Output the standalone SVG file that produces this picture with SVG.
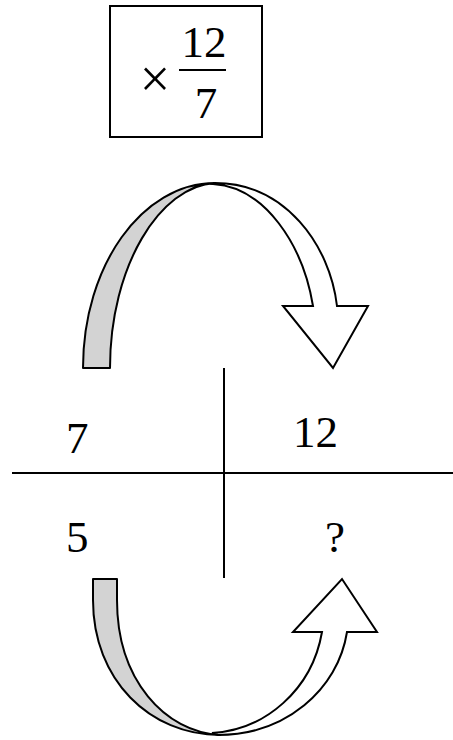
<svg xmlns="http://www.w3.org/2000/svg" width="453" height="740" viewBox="0 0 453 740">
<style>
.t{font-family:"Liberation Serif","Times New Roman",serif;font-size:45px;fill:#000}
.x{font-size:54px}
.ln{stroke:#000;stroke-width:2;fill:none}
.gray{fill:#d3d3d3;stroke:#000;stroke-width:2;stroke-linejoin:round}
.wh{fill:#fff;stroke:#000;stroke-width:2;stroke-linejoin:miter}
</style>
<rect width="453" height="740" fill="#fff"/>
<g id="factor">
<rect x="110" y="6" width="152" height="131" class="ln"/>
<text class="t x" x="155" y="97" text-anchor="middle">×</text>
<text class="t" x="204" y="57" text-anchor="middle">12</text>
<line x1="179" y1="70" x2="226" y2="70" class="ln"/>
<text class="t" x="206" y="118" text-anchor="middle">7</text>
</g>
<g id="top-arrow">
<path class="gray" d="M83 368 C83 266 142 183 215 183 C160 186 110 266 110 368 Z"/>
<path class="wh" d="M215 183 C285 183 330 245 337 306 L368 306 L333 368 L283 306 L313 306 C303 245 265 187 213 184 Z"/>
</g>
<g id="bottom-arrow">
<path class="gray" d="M93 579 L93 600 C93 680 150 735 220 735 C165 732 117 680 117 600 L117 579 Z"/>
<path class="wh" d="M218 735 C285 735 338 690 347 632 L377 632 L342 579 L293 632 L322 632 C312 690 265 730 212 733 Z"/>
</g>
<g id="connectors">
<line x1="224" y1="368" x2="224" y2="578" class="ln"/>
<line x1="12" y1="473" x2="453" y2="473" class="ln"/>
</g>
<g id="values">
<text class="t" x="66" y="453">7</text>
<text class="t" x="293" y="447">12</text>
<text class="t" x="66" y="552">5</text>
<text class="t" x="325" y="552">?</text>
</g>
</svg>
